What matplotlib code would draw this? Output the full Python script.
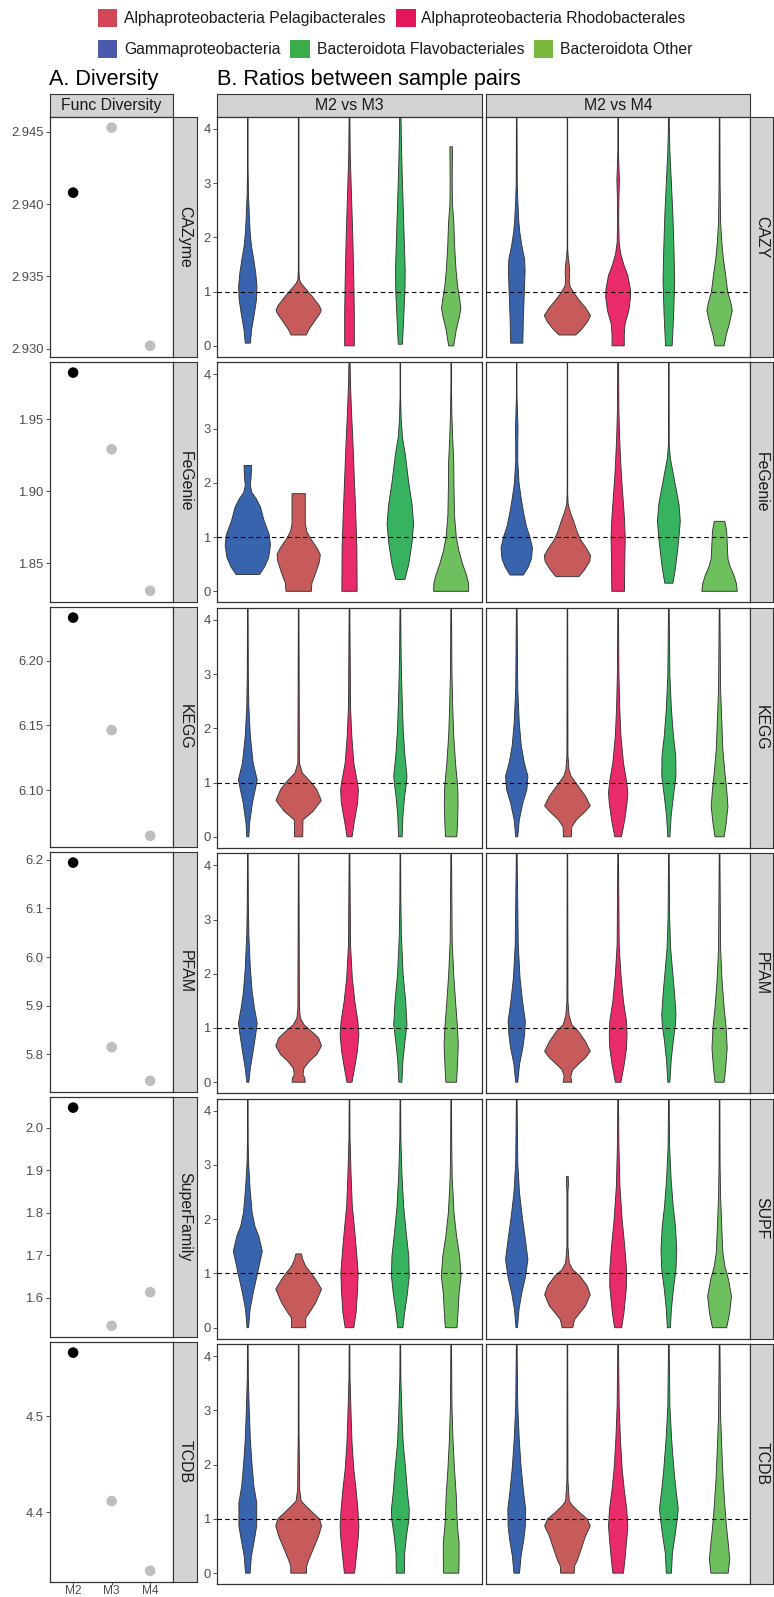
import matplotlib
matplotlib.use('Agg')
import matplotlib.pyplot as plt
from matplotlib import patches

plt.rcParams['font.family'] = ['Liberation Sans', 'DejaVu Sans']

# ---------------- data ----------------
groups = ['Gammaproteobacteria', 'Alphaproteobacteria Pelagibacterales',
          'Alphaproteobacteria Rhodobacterales', 'Bacteroidota Flavobacteriales',
          'Bacteroidota Other']
violin_colors = ['#3864AE', '#C75B5B', '#EA2B6A', '#37B35F', '#6EBF5D']
legend_colors = {'Alphaproteobacteria Pelagibacterales': '#D14758',
                 'Alphaproteobacteria Rhodobacterales': '#E3165D',
                 'Gammaproteobacteria': '#4B5AAB',
                 'Bacteroidota Flavobacteriales': '#3BAE4B',
                 'Bacteroidota Other': '#78B83E'}

samples = ['M2', 'M3', 'M4']
div_labels = ['CAZyme', 'FeGenie', 'KEGG', 'PFAM', 'SuperFamily', 'TCDB']
div_cazyme = [2.9408, 2.9453, 2.9302]
div_fegenie = [1.9824, 1.9292, 1.8310]
div_kegg = [6.2334, 6.1464, 6.0647]
div_pfam = [6.194, 5.815, 5.746]
div_superfamily = [2.047, 1.534, 1.613]
div_tcdb = [4.5665, 4.4115, 4.3387]
div_ticks = [[2.930, 2.935, 2.940, 2.945], [1.85, 1.90, 1.95],
             [6.10, 6.15, 6.20], [5.8, 5.9, 6.0, 6.1, 6.2],
             [1.6, 1.7, 1.8, 1.9, 2.0], [4.4, 4.5]]
div_fmt = ['%.3f', '%.2f', '%.2f', '%.1f', '%.1f', '%.1f']

comparisons = ['M2 vs M3', 'M2 vs M4']
ratio_labels = ['CAZY', 'FeGenie', 'KEGG', 'PFAM', 'SUPF', 'TCDB']

# violin outlines: (ratio, full width) pairs, one list per group
CAZY_M2_M3 = [
    [(0.05, .10), (0.3, .15), (0.6, .26), (0.85, .34), (1.1, .36), (1.35, .31), (1.6, .23), (1.85, .14), (2.1, .09), (2.4, .06), (2.8, .025), (3.3, .01), (4.4, .008)],
    [(0.2, .30), (0.3, .40), (0.45, .62), (0.6, .84), (0.66, .89), (0.75, .80), (0.9, .55), (1.05, .28), (1.15, .10), (1.22, .03), (1.4, .012), (4.4, .012)],
    [(0.0, .19), (0.6, .19), (1.2, .17), (2.0, .13), (2.9, .07), (3.5, .03), (4.4, .01)],
    [(0.03, .08), (0.4, .12), (1.0, .18), (1.4, .19), (2.0, .15), (2.6, .11), (3.2, .07), (3.8, .04), (4.4, .02)],
    [(0.0, .10), (0.3, .20), (0.55, .33), (0.7, .38), (0.9, .32), (1.1, .25), (1.4, .19), (1.8, .14), (2.3, .10), (2.6, .05), (3.0, .04), (3.67, .05)],
]
CAZY_M2_M4 = [
    [(0.05, .24), (0.5, .26), (1.0, .30), (1.4, .33), (1.6, .31), (1.85, .20), (2.1, .12), (2.3, .08), (2.7, .04), (3.0, .02), (4.4, .01)],
    [(0.2, .33), (0.3, .55), (0.45, .80), (0.56, .91), (0.7, .72), (0.85, .45), (1.0, .22), (1.1, .10), (1.2, .07), (1.35, .09), (1.5, .07), (1.65, .03), (1.8, .01), (4.4, .008)],
    [(0.0, .24), (0.2, .24), (0.4, .27), (0.65, .42), (0.9, .49), (1.05, .48), (1.3, .38), (1.5, .22), (1.7, .10), (1.9, .04), (2.3, .02), (2.75, .03), (3.05, .05), (3.3, .03), (3.6, .01), (4.4, .008)],
    [(0.0, .13), (0.6, .19), (1.2, .23), (1.8, .20), (2.4, .16), (3.0, .10), (3.6, .04), (4.0, .02), (4.4, .01)],
    [(0.0, .18), (0.2, .26), (0.4, .38), (0.65, .50), (0.8, .44), (1.0, .32), (1.3, .24), (1.6, .15), (1.95, .08), (2.3, .04), (3.0, .02), (4.4, .01)],
]
FEGENIE_M2_M3 = [
    [(0.31, .46), (0.45, .66), (0.62, .82), (0.85, .89), (1.05, .84), (1.3, .64), (1.55, .50), (1.7, .34), (1.82, .16), (1.95, .10), (2.1, .13), (2.32, .15)],
    [(0.0, .50), (0.15, .52), (0.35, .68), (0.55, .82), (0.68, .85), (0.8, .72), (0.95, .50), (1.1, .32), (1.25, .26), (1.8, .26)],
    [(0.0, .30), (0.8, .29), (1.5, .24), (2.2, .18), (2.8, .13), (3.3, .08), (3.8, .04), (4.4, .015)],
    [(0.22, .18), (0.5, .33), (0.9, .46), (1.25, .52), (1.6, .46), (2.0, .33), (2.5, .20), (2.85, .08), (3.2, .03), (3.6, .01), (4.4, .01)],
    [(0.0, .69), (0.15, .68), (0.3, .60), (0.5, .45), (0.75, .30), (1.0, .20), (1.4, .13), (1.9, .11), (2.4, .10), (2.8, .06), (3.3, .025), (3.8, .01), (4.4, .008)],
]
FEGENIE_M2_M4 = [
    [(0.30, .26), (0.45, .46), (0.6, .58), (0.8, .62), (1.0, .52), (1.2, .38), (1.45, .27), (1.7, .18), (2.0, .09), (2.4, .04), (2.75, .04), (3.0, .05), (3.3, .03), (3.6, .01), (4.4, .008)],
    [(0.27, .45), (0.4, .68), (0.55, .88), (0.66, .91), (0.8, .74), (0.95, .52), (1.1, .38), (1.3, .24), (1.45, .12), (1.6, .03), (1.8, .01), (4.4, .008)],
    [(0.0, .25), (0.5, .26), (1.0, .28), (1.4, .24), (1.8, .18), (2.2, .12), (2.8, .06), (3.3, .03), (4.4, .015)],
    [(0.15, .16), (0.4, .25), (0.7, .33), (1.0, .40), (1.3, .45), (1.6, .40), (1.9, .28), (2.2, .16), (2.45, .06), (2.7, .015), (4.4, .008)],
    [(0.0, .70), (0.15, .66), (0.3, .56), (0.45, .42), (0.6, .33), (0.9, .30), (1.1, .28), (1.22, .24), (1.29, .20)],
]
KEGG_M2_M3 = [
    [(0.0, .04), (0.25, .07), (0.62, .18), (1.0, .35), (1.05, .37), (1.36, .21), (1.86, .10), (2.4, .04), (3.0, .02), (4.4, .01)],
    [(0.0, .16), (0.31, .17), (0.47, .57), (0.67, .89), (0.87, .71), (1.0, .50), (1.18, .14), (1.36, .03), (4.4, .01)],
    [(0.0, .10), (0.25, .18), (0.62, .32), (0.87, .35), (1.0, .31), (1.36, .17), (1.86, .09), (2.4, .04), (4.4, .01)],
    [(0.0, .07), (0.38, .10), (0.75, .17), (1.0, .24), (1.12, .26), (1.49, .18), (1.98, .11), (2.72, .06), (3.34, .03), (4.4, .01)],
    [(0.0, .22), (0.25, .25), (0.62, .27), (0.87, .26), (1.0, .24), (1.36, .17), (1.86, .10), (2.4, .06), (3.0, .03), (4.4, .01)],
]
KEGG_M2_M4 = [
    [(0.0, .04), (0.31, .10), (0.62, .24), (0.87, .40), (1.12, .44), (1.36, .30), (1.67, .18), (2.1, .10), (2.72, .04), (4.4, .01)],
    [(0.0, .16), (0.18, .17), (0.31, .35), (0.47, .71), (0.57, .90), (0.75, .71), (0.93, .43), (1.12, .14), (1.24, .06), (1.5, .02), (4.4, .01)],
    [(0.0, .13), (0.31, .26), (0.62, .35), (0.81, .38), (1.0, .34), (1.36, .21), (1.86, .11), (2.4, .06), (3.0, .03), (4.4, .01)],
    [(0.0, .04), (0.38, .09), (0.75, .18), (1.12, .28), (1.49, .27), (1.86, .18), (2.35, .10), (2.97, .04), (4.4, .01)],
    [(0.0, .18), (0.25, .26), (0.56, .33), (0.87, .28), (1.18, .21), (1.6, .13), (2.1, .09), (2.72, .04), (4.4, .01)],
]
PFAM_M2_M3 = [
    [(0.0, .04), (0.26, .10), (0.57, .21), (0.88, .31), (1.09, .37), (1.37, .26), (1.67, .17), (2.1, .10), (2.72, .04), (3.34, .02), (4.4, .01)],
    [(0.0, .26), (0.08, .24), (0.14, .17), (0.26, .21), (0.39, .43), (0.51, .71), (0.67, .90), (0.82, .78), (0.94, .50), (1.06, .21), (1.18, .07), (1.36, .03), (4.4, .01)],
    [(0.0, .10), (0.26, .20), (0.57, .31), (0.88, .37), (1.12, .33), (1.49, .21), (1.92, .11), (2.53, .04), (4.4, .01)],
    [(0.0, .06), (0.39, .10), (0.75, .18), (1.06, .26), (1.49, .21), (1.98, .11), (2.72, .04), (3.34, .02), (4.4, .01)],
    [(0.0, .21), (0.26, .24), (0.69, .28), (1.06, .24), (1.49, .17), (1.98, .10), (2.6, .04), (4.4, .01)],
]
PFAM_M2_M4 = [
    [(0.0, .04), (0.33, .11), (0.63, .24), (0.88, .31), (1.12, .34), (1.49, .23), (1.92, .13), (2.53, .06), (4.4, .01)],
    [(0.0, .17), (0.11, .13), (0.23, .21), (0.33, .43), (0.45, .71), (0.57, .90), (0.75, .71), (0.94, .43), (1.06, .17), (1.24, .06), (1.5, .02), (4.4, .01)],
    [(0.0, .11), (0.33, .24), (0.63, .33), (0.88, .35), (1.12, .33), (1.49, .21), (1.98, .11), (2.53, .04), (4.4, .01)],
    [(0.0, .04), (0.39, .09), (0.75, .17), (1.06, .26), (1.25, .28), (1.61, .23), (1.98, .16), (2.47, .07), (3.03, .03), (4.4, .01)],
    [(0.0, .18), (0.26, .24), (0.63, .30), (1.0, .26), (1.37, .18), (1.86, .10), (2.47, .04), (4.4, .01)],
]
SUPF_M2_M3 = [
    [(0.0, .03), (0.34, .09), (0.64, .21), (1.0, .38), (1.41, .57), (1.69, .43), (1.87, .28), (2.12, .17), (2.55, .09), (3.04, .03), (3.4, .015), (4.4, .01)],
    [(0.0, .28), (0.18, .28), (0.28, .43), (0.46, .67), (0.71, .90), (0.89, .67), (1.0, .50), (1.13, .28), (1.26, .16), (1.36, .11)],
    [(0.0, .17), (0.28, .26), (0.64, .31), (1.01, .34), (1.38, .28), (1.81, .20), (2.24, .11), (2.85, .06), (3.5, .02), (4.4, .01)],
    [(0.0, .10), (0.28, .17), (0.64, .28), (0.95, .35), (1.32, .33), (1.75, .23), (2.24, .13), (2.85, .06), (3.5, .02), (4.4, .01)],
    [(0.0, .23), (0.28, .27), (0.64, .31), (0.95, .39), (1.32, .33), (1.69, .21), (2.12, .11), (2.76, .04), (3.4, .02), (4.4, .01)],
]
SUPF_M2_M4 = [
    [(0.0, .03), (0.34, .09), (0.64, .20), (0.95, .35), (1.26, .44), (1.63, .34), (2.0, .23), (2.48, .11), (3.04, .04), (4.4, .01)],
    [(0.0, .21), (0.15, .28), (0.28, .50), (0.40, .71), (0.61, .90), (0.77, .78), (0.95, .50), (1.07, .21), (1.2, .07), (1.5, .02), (2.5, .02), (2.65, .04), (2.79, .03)],
    [(0.0, .14), (0.28, .23), (0.77, .33), (1.07, .33), (1.5, .26), (1.98, .16), (2.6, .07), (3.34, .03), (4.4, .01)],
    [(0.0, .06), (0.34, .10), (0.71, .18), (1.07, .28), (1.44, .31), (1.87, .26), (2.24, .17), (2.73, .09), (3.34, .03), (4.4, .01)],
    [(0.0, .28), (0.28, .40), (0.58, .47), (0.89, .35), (1.13, .21), (1.38, .13), (1.81, .09), (2.42, .04), (3.0, .02), (4.4, .01)],
]
TCDB_M2_M3 = [
    [(0.0, .09), (0.31, .14), (0.62, .26), (0.87, .35), (1.3, .35), (1.6, .24), (2.04, .16), (2.46, .10), (2.96, .06), (3.6, .02), (4.4, .01)],
    [(0.0, .31), (0.13, .31), (0.25, .40), (0.44, .57), (0.68, .78), (0.87, .90), (1.0, .82), (1.11, .57), (1.24, .28), (1.33, .10), (1.54, .04), (2.04, .03), (2.6, .015), (4.4, .012)],
    [(0.0, .20), (0.31, .27), (0.68, .35), (0.87, .37), (1.18, .33), (1.54, .26), (1.91, .17), (2.4, .10), (2.96, .06), (3.6, .02), (4.4, .01)],
    [(0.0, .16), (0.37, .17), (0.68, .24), (1.0, .34), (1.18, .35), (1.48, .28), (1.91, .21), (2.4, .11), (2.96, .06), (3.6, .02), (4.4, .01)],
    [(0.0, .30), (0.25, .31), (0.56, .31), (0.8, .26), (1.0, .23), (1.42, .20), (1.91, .13), (2.46, .07), (3.08, .03), (4.4, .01)],
]
TCDB_M2_M4 = [
    [(0.0, .11), (0.31, .17), (0.62, .28), (0.87, .34), (1.18, .35), (1.54, .26), (1.97, .17), (2.46, .10), (3.08, .04), (4.4, .01)],
    [(0.0, .27), (0.13, .28), (0.25, .40), (0.44, .54), (0.68, .71), (0.87, .90), (1.0, .78), (1.11, .50), (1.24, .21), (1.33, .07), (1.72, .02), (4.4, .01)],
    [(0.0, .21), (0.31, .28), (0.68, .35), (0.87, .38), (1.18, .34), (1.54, .24), (1.91, .16), (2.46, .09), (3.08, .04), (4.4, .01)],
    [(0.0, .10), (0.37, .14), (0.68, .24), (1.0, .33), (1.18, .37), (1.54, .28), (1.91, .20), (2.46, .11), (3.08, .04), (4.4, .01)],
    [(0.0, .34), (0.25, .40), (0.56, .34), (0.87, .27), (1.23, .21), (1.72, .14), (2.28, .09), (2.9, .04), (4.4, .01)],
]

div_values = [div_cazyme, div_fegenie, div_kegg, div_pfam, div_superfamily, div_tcdb]
ratio_panels = [(CAZY_M2_M3, CAZY_M2_M4), (FEGENIE_M2_M3, FEGENIE_M2_M4),
                (KEGG_M2_M3, KEGG_M2_M4), (PFAM_M2_M3, PFAM_M2_M4),
                (SUPF_M2_M3, SUPF_M2_M4), (TCDB_M2_M3, TCDB_M2_M4)]

# ---------------- layout helpers (pixel boxes) ----------------
W, H = 774, 1597
fig = plt.figure(figsize=(W / 100, H / 100), dpi=100)
fig.patch.set_facecolor('white')

BORDER = '#333333'
STRIP = '#D3D3D3'
TICKTXT = '#4D4D4D'


def box(x0, y0, x1, y1):
    return [x0 / W, 1 - y1 / H, (x1 - x0) / W, (y1 - y0) / H]


def strip(x0, y0, x1, y1, label, rotation=0):
    ax = fig.add_axes(box(x0, y0, x1, y1))
    ax.set_facecolor(STRIP)
    ax.set_xticks([])
    ax.set_yticks([])
    for s in ax.spines.values():
        s.set_color(BORDER)
        s.set_linewidth(0.8)
    ax.text(0.5, 0.5, label, transform=ax.transAxes, ha='center', va='center',
            rotation=rotation, fontsize=11.4, color='#1A1A1A')
    return ax


def style_panel(ax):
    for s in ax.spines.values():
        s.set_color(BORDER)
        s.set_linewidth(0.9)
    ax.tick_params(axis='both', length=2.75, width=0.6, color=BORDER,
                   labelsize=9.4, labelcolor=TICKTXT, pad=2)


def draw_violin(ax, pos, prof, color):
    ys = [p[0] for p in prof]
    half = [p[1] / 2 for p in prof]
    xs = [pos + h for h in half] + [pos - h for h in reversed(half)]
    yy = ys + ys[::-1]
    ax.fill(xs, yy, facecolor=color, edgecolor=BORDER, linewidth=0.65)


# ---------------- legend ----------------
legend_rows = [
    [('Alphaproteobacteria Pelagibacterales', 97.7, 124.4),
     ('Alphaproteobacteria Rhodobacterales', 396.3, 420.5)],
    [('Gammaproteobacteria', 97.7, 124.4),
     ('Bacteroidota Flavobacteriales', 290.2, 316.9),
     ('Bacteroidota Other', 534.0, 560.0)],
]
for row_y, row in zip([18.3, 49.3], legend_rows):
    for name, kx, tx in row:
        fig.patches.append(patches.Rectangle((kx / W, 1 - (row_y + 9) / H), 19.3 / W, 18 / H,
                                             transform=fig.transFigure,
                                             facecolor=legend_colors[name], edgecolor='none'))
        fig.text(tx / W, 1 - row_y / H, name, ha='left', va='center',
                 fontsize=11.3, color='#1A1A1A')

fig.text(49.3 / W, 1 - 85 / H, 'A. Diversity', fontsize=15.6, ha='left', va='baseline')
fig.text(217.2 / W, 1 - 85 / H, 'B. Ratios between sample pairs', fontsize=15.6,
         ha='left', va='baseline')

# ---------------- A. diversity panels ----------------
strip(50, 94, 173.3, 116.7, 'Func Diversity')
for i, vals in enumerate(div_values):
    top = 116.7 + 245 * i
    ax = fig.add_axes(box(50, top, 173.3, top + 240))
    xs = [1, 2, 3]
    cols = ['black', '#BEBEBE', '#BEBEBE']
    ax.scatter(xs, vals, s=58, c=cols, linewidths=0, zorder=3)
    lo, hi = min(vals), max(vals)
    pad = 0.05 * (hi - lo)
    ax.set_ylim(lo - pad, hi + pad)
    ax.set_xlim(0.4, 3.6)
    ax.set_yticks(div_ticks[i])
    ax.set_yticklabels([div_fmt[i] % t for t in div_ticks[i]])
    ax.set_xticks(xs)
    style_panel(ax)
    if i == len(div_values) - 1:
        ax.set_xticklabels(samples)
        ax.tick_params(axis='x', length=2, pad=0.5, labelsize=8.6)
    else:
        ax.tick_params(axis='x', length=0, labelbottom=False)
    strip(173.3, top, 196.7, top + 240, div_labels[i], rotation=-90)

# ---------------- B. ratio panels ----------------
col_x = [(217.3, 481.7), (486.3, 750.0)]
for j, (x0, x1) in enumerate(col_x):
    strip(x0, 94, x1, 116.7, comparisons[j])

for i, pair in enumerate(ratio_panels):
    top = 116.7 + 245.46 * i
    for j, (x0, x1) in enumerate(col_x):
        ax = fig.add_axes(box(x0, top, x1, top + 240))
        for k, prof in enumerate(pair[j]):
            draw_violin(ax, k + 1, prof, violin_colors[k])
        ax.axhline(1, color='black', linestyle=(0, (4, 3)), linewidth=0.8, zorder=4)
        ax.set_xlim(0.4, 5.6)
        ax.set_ylim(-0.2, 4.225)
        ax.set_xticks([])
        style_panel(ax)
        if j == 0:
            ax.set_yticks([0, 1, 2, 3, 4])
        else:
            ax.set_yticks([])
    strip(750.0, top, 773.5, top + 240, ratio_labels[i], rotation=-90)

fig.savefig('out.png', dpi=100)
